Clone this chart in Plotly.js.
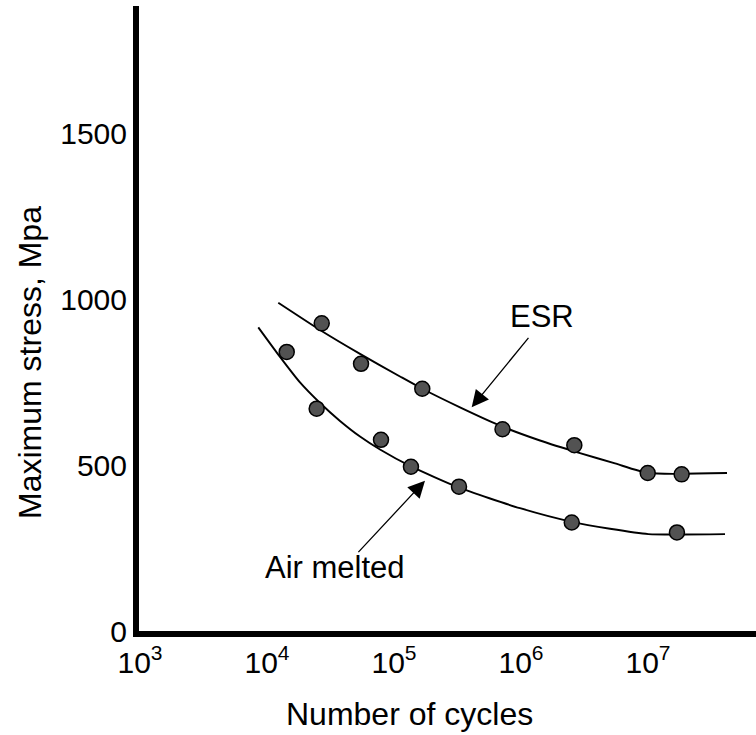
<!DOCTYPE html>
<html><head><meta charset="utf-8">
<script src="https://cdn.plot.ly/plotly-3.0.1.min.js"></script>
<style>html,body{margin:0;padding:0;background:#fff;} #chart{width:756px;height:735px;}</style>
</head><body><div id="chart"></div>
<script>
// measured points (cycles, MPa)
const esrCycles = [26970, 55000, 167000, 715000, 2630000, 9950000, 18400000];
const esrStress = [927, 805, 730, 608, 560, 476, 472];
const airCycles = [14300, 24600, 79000, 136000, 325000, 2510000, 16900000];
const airStress = [841, 670, 576, 495, 435, 327, 297];
// fitted curves
const esrFitCycles = [12270, 26150, 54000, 111500, 167000, 330900, 712500, 1411000, 2914000, 5499000, 10000000, 41880000];
const esrFitStress = [989, 907, 835, 767, 730, 674, 616, 574, 536, 505, 476, 476];
const airFitCycles = [8540, 12660, 18190, 26150, 37570, 54000, 77600, 136100, 324900, 982000, 2507000, 5022000, 10055000, 40400000];
const airFitStress = [915, 826, 749, 687, 633, 586, 547, 496, 432, 370, 329, 308, 292, 292];
// ticks
const xTickVals = [1e3, 1e4, 1e5, 1e6, 1e7];
const xTickText = ['10<sup>3</sup>', '10<sup>4</sup>', '10<sup>5</sup>', '10<sup>6</sup>', '10<sup>7</sup>'];
const yTickVals = [0, 500, 1000, 1500];
const yTickText = ['0', '500', '1000', '1500'];
// labels
const esrLabel = {text: 'ESR', cycles: 1455000, stress: 948};
const airLabel = {text: 'Air melted', cycles: 34300, stress: 190};
const esrArrowTip = {cycles: 409000, stress: 674};
const airArrowTip = {cycles: 175400, stress: 453};
const xTitle = 'Number of cycles';
const yTitle = 'Maximum stress, Mpa';

const FONT = 'Liberation Sans, Arial, sans-serif';
const lineStyle = {color: '#000', width: 1.9, shape: 'spline', smoothing: 0.55};
const markerStyle = {size: 15, color: '#525252', line: {color: '#000', width: 1.5}};

const traces = [
  {x: esrFitCycles, y: esrFitStress, mode: 'lines', line: lineStyle, name: 'ESR fit', hoverinfo: 'skip'},
  {x: airFitCycles, y: airFitStress, mode: 'lines', line: lineStyle, name: 'Air melted fit', hoverinfo: 'skip'},
  {x: esrCycles, y: esrStress, mode: 'markers', marker: markerStyle, name: 'ESR'},
  {x: airCycles, y: airStress, mode: 'markers', marker: markerStyle, name: 'Air melted'}
];

const annotations = [
  {x: Math.log10(esrLabel.cycles), y: esrLabel.stress, xref: 'x', yref: 'y', text: esrLabel.text, showarrow: false,
   xanchor: 'center', yanchor: 'middle', font: {family: FONT, size: 31, color: '#000'}},
  {x: Math.log10(airLabel.cycles), y: airLabel.stress, xref: 'x', yref: 'y', text: airLabel.text, showarrow: false,
   xanchor: 'center', yanchor: 'middle', font: {family: FONT, size: 31, color: '#000'}},
  {x: Math.log10(esrArrowTip.cycles), y: esrArrowTip.stress, xref: 'x', yref: 'y', text: '', showarrow: true,
   ax: 58, ay: -71, arrowhead: 2, arrowsize: 2.6, arrowwidth: 1.3, arrowcolor: '#000', standoff: 0},
  {x: Math.log10(airArrowTip.cycles), y: airArrowTip.stress, xref: 'x', yref: 'y', text: '', showarrow: true,
   ax: -68, ay: 73, arrowhead: 2, arrowsize: 2.6, arrowwidth: 1.3, arrowcolor: '#000', standoff: 0},
  {x: -0.1767, y: 0.4304, xref: 'paper', yref: 'paper', text: yTitle, textangle: -90, showarrow: false,
   xanchor: 'center', yanchor: 'middle', font: {family: FONT, size: 32, color: '#000'}},
  {x: 0.4392, y: -0.1328, xref: 'paper', yref: 'paper', text: xTitle, showarrow: false,
   xanchor: 'center', yanchor: 'middle', font: {family: FONT, size: 32, color: '#000'}}
];

const layout = {
  width: 756, height: 735,
  margin: {l: 139, r: 0, t: 6, b: 104, pad: 0},
  paper_bgcolor: '#fff', plot_bgcolor: '#fff',
  showlegend: false,
  font: {family: FONT, color: '#000'},
  xaxis: {
    type: 'log', range: [2.99213, 7.8504],
    showline: true, linewidth: 6, linecolor: '#000',
    showgrid: false, zeroline: false, ticks: '',
    tickmode: 'array', tickvals: xTickVals, ticktext: xTickText,
    tickfont: {family: FONT, size: 30, color: '#000'}
  },
  yaxis: {
    range: [0, 1883.3],
    showline: true, linewidth: 6, linecolor: '#000',
    showgrid: false, zeroline: false, ticks: '',
    tickmode: 'array', tickvals: yTickVals, ticktext: yTickText,
    tickfont: {family: FONT, size: 30, color: '#000'}
  },
  annotations: annotations
};

Plotly.newPlot('chart', traces, layout, {staticPlot: true, displayModeBar: false});
</script>
</body></html>
